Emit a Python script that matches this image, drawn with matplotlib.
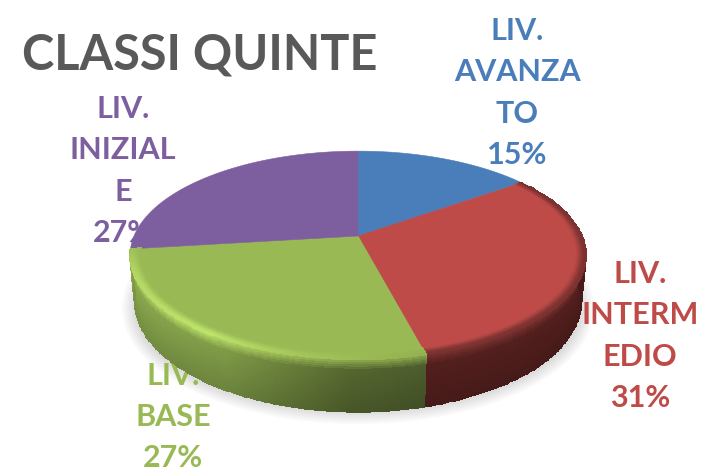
import matplotlib
matplotlib.use('Agg')
import matplotlib.pyplot as plt
from matplotlib.colors import to_rgb
from matplotlib.patches import Ellipse, Polygon
import numpy as np

title = 'CLASSI QUINTE'
labels = ['LIV.\nAVANZA\nTO\n15%', 'LIV.\nINTERM\nEDIO\n31%', 'LIV.\nBASE\n27%', 'LIV.\nINIZIAL\nE\n27%']
values = [15, 31, 27, 27]

colors = ['#4a7ebb', '#be4b48', '#98b954', '#7d5fa0']
label_pos = [(517, 93), (640, 336), (173, 417), (123, 171)]

# perspective of the disc, in pixels of the picture
CX, CY = 358, 236
RX, RY = 224, 100.5
Q = 0.184
DEPTH = 45.5


def project(theta, r=1.0, h=0.0):
    # theta in degrees, clockwise from the top
    t = np.radians(theta)
    u, v = r * np.sin(t), r * np.cos(t)
    d = 1 + Q * v
    return CX + RX * u / d, CY - RY * v / d + h / d


def mix(a, b, w):
    return a + (b - a) * w


def side_colors(i, thetas, s):
    # s: -1 inner edge of the bevel on the top, 0 the rim, 1 bottom of the side
    face = np.array(to_rgb(colors[i]))
    if i == 1:
        side_c = np.tile(to_rgb('#521f1d'), (len(thetas), 1))
        high_c = np.tile(to_rgb('#7c3230'), (len(thetas), 1))
    else:
        tp = [165, 182, 210, 263]
        side_c = np.column_stack([np.interp(thetas, tp, [to_rgb(c)[k] for c in ['#4c5c2c', '#55662f', '#7f9b47', '#8fae50']]) for k in range(3)])
        tp = [165, 190, 215, 250, 263]
        high_c = np.column_stack([np.interp(thetas, tp, [to_rgb(c)[k] for c in ['#92b050', '#a2c259', '#bde36a', '#b4d864', '#a0c058']]) for k in range(3)])
    out = np.zeros((len(s), len(thetas), 3))
    for row, sv in enumerate(s):
        if sv < 0:
            w = (sv + 1) ** 2 * (3 - 2 * (sv + 1))
            out[row] = mix(face, high_c, w)
        elif sv < 0.22:
            out[row] = mix(high_c, side_c, sv / 0.22)
        else:
            out[row] = side_c * (1 - 0.15 * (sv - 0.22) / 0.78)
    return out


def band(i, s_rows, zorder):
    th = np.linspace(edges[i], edges[i + 1], 140)
    X = np.zeros((len(s_rows), len(th)))
    Y = np.zeros_like(X)
    for row, sv in enumerate(s_rows):
        if sv < 0:
            X[row], Y[row] = project(th, r=1 + 0.045 * sv)
        else:
            X[row], Y[row] = project(th, r=1 - 0.02 * sv, h=DEPTH * sv)
    mids = 0.5 * (th[:-1] + th[1:])
    s_mid = 0.5 * (s_rows[:-1] + s_rows[1:])
    C = side_colors(i, mids, s_mid)
    ax.pcolormesh(X, Y, C, shading='flat', linewidth=0.3, edgecolors='face', zorder=zorder)


fig = plt.figure(figsize=(7.02, 4.73), dpi=100)
ax = fig.add_axes([0, 0, 1, 1])
ax.set_xlim(0, 702)
ax.set_ylim(473, 0)
ax.axis('off')

# soft shadow under the pie
for k in range(10):
    ax.add_patch(Ellipse((358, 308), 2 * (236 - k * 2.4), 2 * (116 - k * 2.2), fc='black', ec='none', alpha=0.022, zorder=1))

ax.text(22, 55, title, color='#595959', fontsize=35, fontweight='bold', family='Lato', va='center', ha='left', zorder=2)
for lab, pos, c in zip(labels, label_pos, colors):
    ax.text(pos[0], pos[1], lab, color=c, fontsize=22, fontweight='bold', family='Lato',
            ha='center', va='center', linespacing=1.57, zorder=2)

edges = np.concatenate([[0], np.cumsum(values) / np.sum(values) * 360])

# the side goes first, the top of the pie hides its back part
for i in [1, 2]:
    band(i, np.linspace(0, 1, 26), 3)

for i, c in enumerate(colors):
    th = np.linspace(edges[i], edges[i + 1], 80)
    x, y = project(th)
    pts = np.column_stack([np.r_[CX, x], np.r_[CY, y]])
    ax.add_patch(Polygon(pts, closed=True, fc=c, ec=c, lw=0.4, zorder=4))

# bevel along the rim of the same two slices
for i in [1, 2]:
    band(i, np.linspace(-1, 0, 16), 5)

fig.savefig('out.png', dpi=100, facecolor='white')
